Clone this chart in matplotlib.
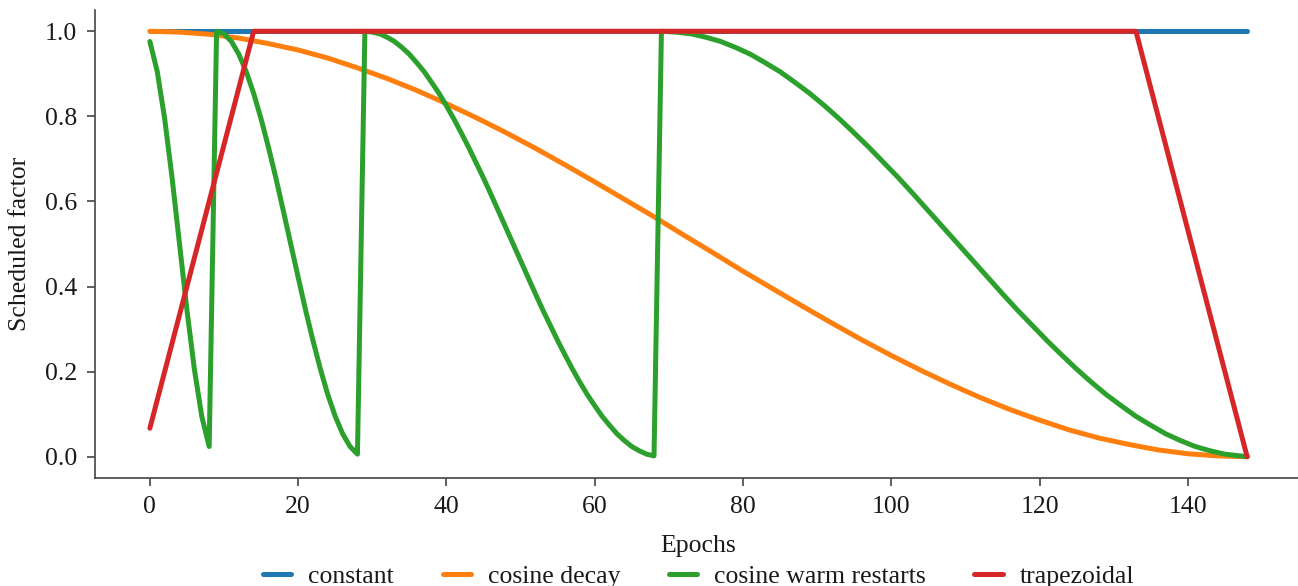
import numpy as np
import matplotlib
matplotlib.use("Agg")
import matplotlib.pyplot as plt

# --- schedule values ---
const_x = [0, 148]
const_y = [1.0, 1.0]

cos_x = list(range(0, 149, 4))
cos_y = [1.0, 0.998, 0.993, 0.984, 0.971, 0.956, 0.937, 0.914, 0.889, 0.861,
         0.830, 0.797, 0.762, 0.725, 0.686, 0.646, 0.605, 0.564, 0.521, 0.479,
         0.436, 0.395, 0.354, 0.314, 0.275, 0.238, 0.203, 0.170, 0.139, 0.111,
         0.086, 0.063, 0.044, 0.029, 0.016, 0.007, 0.002, 0.0]

# warm restarts: one point per epoch up to 68, then every other epoch
warm_x = list(range(0, 69)) + list(range(69, 148, 2)) + [148]
warm_y = [0.976, 0.905, 0.794, 0.655, 0.500, 0.345, 0.206, 0.095, 0.024,
          1.0, 0.994, 0.976, 0.946, 0.905, 0.854, 0.794, 0.727, 0.655, 0.578,
          0.500, 0.422, 0.345, 0.273, 0.206, 0.146, 0.095, 0.054, 0.024, 0.006,
          1.0, 0.998, 0.994, 0.986, 0.976, 0.962, 0.946, 0.926, 0.905, 0.880,
          0.854, 0.825, 0.794, 0.761, 0.727, 0.691, 0.655, 0.617, 0.578, 0.539,
          0.500, 0.461, 0.422, 0.383, 0.345, 0.309, 0.273, 0.239, 0.206, 0.175,
          0.146, 0.120, 0.095, 0.074, 0.054, 0.038, 0.024, 0.014, 0.006, 0.002,
          1.0, 0.998, 0.994, 0.986, 0.976, 0.962, 0.946, 0.926, 0.905, 0.880,
          0.854, 0.825, 0.794, 0.761, 0.727, 0.691, 0.655, 0.617, 0.578, 0.539,
          0.500, 0.461, 0.422, 0.383, 0.345, 0.309, 0.273, 0.239, 0.206, 0.175,
          0.146, 0.120, 0.095, 0.074, 0.054, 0.038, 0.024, 0.014, 0.006, 0.002,
          0.0004]

trap_x = [0, 14, 133, 148]
trap_y = [0.067, 1.0, 1.0, 0.0]

labels = ["constant", "cosine decay", "cosine warm restarts", "trapezoidal"]
colors = ["#1f77b4", "#ff7f0e", "#2ca02c", "#d62728"]

plt.rcParams["font.family"] = ["Liberation Serif", "DejaVu Serif"]
plt.rcParams["font.size"] = 18.5
dark = "#1a1a1a"
plt.rcParams["text.color"] = dark
plt.rcParams["axes.labelcolor"] = dark
plt.rcParams["xtick.color"] = dark
plt.rcParams["ytick.color"] = dark

fig = plt.figure(figsize=(12.98, 5.86), dpi=100)
ax = fig.add_axes([95 / 1298, 1 - 478 / 586, (1302 - 95) / 1298, 468 / 586])

series = [(const_x, const_y), (cos_x, cos_y), (warm_x, warm_y), (trap_x, trap_y)]
for (x, y), lab, c in zip(series, labels, colors):
    ax.plot(x, y, color=c, lw=3.6, label=lab, solid_capstyle="round",
            solid_joinstyle="round")

ax.set_xlim(-7.4, 155.4)
ax.set_ylim(-0.05, 1.05)
ax.set_xticks([0, 20, 40, 60, 80, 100, 120, 140])
ax.set_yticks([0.0, 0.2, 0.4, 0.6, 0.8, 1.0])
ax.set_yticklabels(["0.0", "0.2", "0.4", "0.6", "0.8", "1.0"])
ax.set_xlabel("Epochs", labelpad=12)
ax.set_ylabel("Scheduled factor", labelpad=10)
for s in ["top", "right"]:
    ax.spines[s].set_visible(False)
for s in ["left", "bottom"]:
    ax.spines[s].set_color("#444444")
    ax.spines[s].set_linewidth(1.2)
ax.tick_params(length=6, width=1.2, color="#444444", pad=7)

leg = ax.legend(loc="upper center", bbox_to_anchor=(0.5, -0.165), ncol=4,
                frameon=False, columnspacing=1.9, handletextpad=0.65,
                borderaxespad=0, handlelength=1.1)

fig.savefig("out.png", dpi=100)
